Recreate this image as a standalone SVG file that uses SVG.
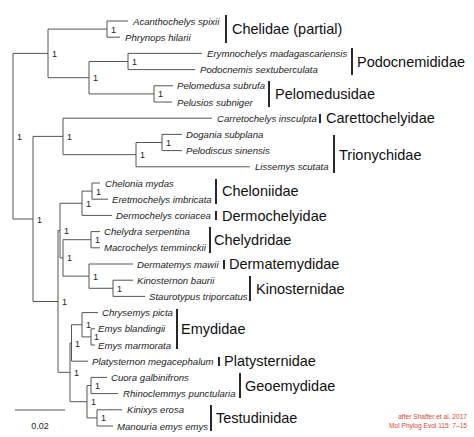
<svg xmlns="http://www.w3.org/2000/svg" width="474" height="437" viewBox="0 0 474 437">
<style>
.br{stroke:#555;stroke-width:1;fill:none}
.sp{font-family:"Liberation Sans",Arial,sans-serif;font-style:italic;font-size:9.6px;fill:#222}
.fam{font-family:"Liberation Sans",Arial,sans-serif;font-size:14.5px;fill:#111}
.bar{stroke:#111;stroke-width:1.8}
.sup{font-family:"Liberation Sans",Arial,sans-serif;font-size:9px;fill:#222}
.cr{font-family:"Liberation Sans",Arial,sans-serif;font-size:6.6px;fill:#e0432f;text-anchor:end}
</style>
<rect width="474" height="437" fill="#fff"/>
<g id="connectors" class="br">
<path d="M13,53.4V219 M13,53.4H48 M13,219H33"/>
<path d="M48,29.1V77.7 M48,29.1H107 M48,77.7H89"/>
<path d="M107,21V37.2 M107,21H128 M107,37.2H120"/>
<path d="M89,61.5V93.9 M89,61.5H128 M89,93.9H154"/>
<path d="M128,53.4V69.6 M128,53.4H202 M128,69.6H195"/>
<path d="M154,85.8V102 M154,85.8H173 M154,102H172"/>
<path d="M33,136.4V301.5 M33,136.4H63 M33,301.5H58"/>
<path d="M63,118.2V154.65 M63,118.2H212 M63,154.65H136"/>
<path d="M136,142.5V166.8 M136,142.5H162 M136,166.8H250"/>
<path d="M162,134.4V150.6 M162,134.4H182 M162,150.6H182"/>
<path d="M58,230.6V372.3 M58,230.6H60 M58,372.3H70"/>
<path d="M60,203.25V257.9 M60,203.25H82 M60,257.9H63"/>
<path d="M82,191.1V215.4 M82,191.1H92 M82,215.4H112"/>
<path d="M92,183V199.2 M92,183H100 M92,199.2H108"/>
<path d="M63,239.7V276.15 M63,239.7H91 M63,276.15H89"/>
<path d="M91,231.6V247.8 M91,231.6H100 M91,247.8H100"/>
<path d="M89,264V288.3 M89,264H133 M89,288.3H113"/>
<path d="M113,280.2V296.4 M113,280.2H133 M113,296.4H145"/>
<path d="M70,343V401.7 M70,343H71.5 M70,401.7H87"/>
<path d="M71.5,324.75V361.2 M71.5,324.75H82 M71.5,361.2H88"/>
<path d="M82,312.6V336.9 M82,312.6H98 M82,336.9H91"/>
<path d="M91,328.8V345 M91,328.8H95 M91,345H95"/>
<path d="M87,385.5V417.9 M87,385.5H91 M87,417.9H97"/>
<path d="M91,377.4V393.6 M91,377.4H107 M91,393.6H118"/>
<path d="M97,409.8V426 M97,409.8H122 M97,426H113"/>
</g>
<g id="supports" class="sup">
<text x="17" y="139.7">1</text>
<text x="52" y="56.9">1</text>
<text x="111" y="32.6">1</text>
<text x="93" y="81.2">1</text>
<text x="132" y="65">1</text>
<text x="158" y="97.4">1</text>
<text x="37" y="222.5">1</text>
<text x="67" y="139.9">1</text>
<text x="140" y="158.2">1</text>
<text x="166" y="146">1</text>
<text x="62" y="305">1</text>
<text x="64" y="234.1">1</text>
<text x="86" y="206.8">1</text>
<text x="96" y="194.6">1</text>
<text x="67" y="261.4">1</text>
<text x="95" y="243.2">1</text>
<text x="93" y="279.7">1</text>
<text x="117" y="291.8">1</text>
<text x="74" y="375.8">1</text>
<text x="75" y="346.5">1</text>
<text x="86" y="328.3">1</text>
<text x="94" y="340.4">1</text>
<text x="91" y="405.2">1</text>
<text x="95" y="389">1</text>
<text x="101" y="421.4">1</text>
</g>
<g id="tip-acanthochelys"><text class="sp" x="133" y="24.5">Acanthochelys spixii</text></g>
<g id="tip-phrynops"><text class="sp" x="125" y="40.7">Phrynops hilarii</text></g>
<g id="tip-erymnochelys"><text class="sp" x="207" y="56.9">Erymnochelys madagascariensis</text></g>
<g id="tip-podocnemis"><text class="sp" x="200" y="73.1">Podocnemis sextuberculata</text></g>
<g id="tip-pelomedusa"><text class="sp" x="177" y="89.3">Pelomedusa subrufa</text></g>
<g id="tip-pelusios"><text class="sp" x="177" y="105.5">Pelusios subniger</text></g>
<g id="tip-carretochelys"><text class="sp" x="217" y="121.7">Carretochelys insculpta</text></g>
<g id="tip-dogania"><text class="sp" x="186" y="137.9">Dogania subplana</text></g>
<g id="tip-pelodiscus"><text class="sp" x="186" y="154.1">Pelodiscus sinensis</text></g>
<g id="tip-lissemys"><text class="sp" x="255" y="170.3">Lissemys scutata</text></g>
<g id="tip-chelonia"><text class="sp" x="105" y="186.5">Chelonia mydas</text></g>
<g id="tip-eretmochelys"><text class="sp" x="112" y="202.7">Eretmochelys imbricata</text></g>
<g id="tip-dermochelys"><text class="sp" x="116" y="218.9">Dermochelys coriacea</text></g>
<g id="tip-chelydra"><text class="sp" x="104" y="235.1">Chelydra serpentina</text></g>
<g id="tip-macrochelys"><text class="sp" x="104" y="251.3">Macrochelys temminckii</text></g>
<g id="tip-dermatemys"><text class="sp" x="137" y="267.5">Dermatemys mawii</text></g>
<g id="tip-kinosternon"><text class="sp" x="137" y="283.7">Kinosternon baurii</text></g>
<g id="tip-staurotypus"><text class="sp" x="149" y="299.9">Staurotypus triporcatus</text></g>
<g id="tip-chrysemys"><text class="sp" x="102" y="316.1">Chrysemys picta</text></g>
<g id="tip-emys-blandingii"><text class="sp" x="98" y="332.3">Emys blandingii</text></g>
<g id="tip-emys-marmorata"><text class="sp" x="98" y="348.5">Emys marmorata</text></g>
<g id="tip-platysternon"><text class="sp" x="92" y="364.7">Platysternon megacephalum</text></g>
<g id="tip-cuora"><text class="sp" x="111" y="380.9">Cuora galbinifrons</text></g>
<g id="tip-rhinoclemmys"><text class="sp" x="123" y="397.1">Rhinoclemmys punctularia</text></g>
<g id="tip-kinixys"><text class="sp" x="127" y="413.3">Kinixys erosa</text></g>
<g id="tip-manouria"><text class="sp" x="117" y="429.5">Manouria emys emys</text></g>
<g id="fam-chelidae"><line class="bar" x1="226" y1="15" x2="226" y2="43"/><text class="fam" x="232" y="34.3">Chelidae (partial)</text></g>
<g id="fam-podocnemididae"><line class="bar" x1="352" y1="48" x2="352" y2="75"/><text class="fam" x="357" y="66.7">Podocnemididae</text></g>
<g id="fam-pelomedusidae"><line class="bar" x1="269" y1="81" x2="269" y2="107"/><text class="fam" x="275" y="99.1">Pelomedusidae</text></g>
<g id="fam-carettochelyidae"><line class="bar" x1="320" y1="114" x2="320" y2="123"/><text class="fam" x="326" y="123.4">Carettochelyidae</text></g>
<g id="fam-trionychidae"><line class="bar" x1="334" y1="135" x2="334" y2="173"/><text class="fam" x="339" y="159.6">Trionychidae</text></g>
<g id="fam-cheloniidae"><line class="bar" x1="216" y1="179" x2="216" y2="204"/><text class="fam" x="222" y="196.3">Cheloniidae</text></g>
<g id="fam-dermochelyidae"><line class="bar" x1="216" y1="211" x2="216" y2="220"/><text class="fam" x="222" y="220.6">Dermochelyidae</text></g>
<g id="fam-chelydridae"><line class="bar" x1="210" y1="227" x2="210" y2="253"/><text class="fam" x="214" y="244.9">Chelydridae</text></g>
<g id="fam-dermatemydidae"><line class="bar" x1="224" y1="260" x2="224" y2="269"/><text class="fam" x="229" y="269.2">Dermatemydidae</text></g>
<g id="fam-kinosternidae"><line class="bar" x1="250" y1="276" x2="250" y2="301"/><text class="fam" x="256" y="293.5">Kinosternidae</text></g>
<g id="fam-emydidae"><line class="bar" x1="177" y1="309" x2="177" y2="349"/><text class="fam" x="181" y="334">Emydidae</text></g>
<g id="fam-platysternidae"><line class="bar" x1="219" y1="357" x2="219" y2="366"/><text class="fam" x="224" y="366.4">Platysternidae</text></g>
<g id="fam-geoemydidae"><line class="bar" x1="240" y1="373" x2="240" y2="398"/><text class="fam" x="245" y="390.7">Geoemydidae</text></g>
<g id="fam-testudinidae"><line class="bar" x1="211" y1="405" x2="211" y2="431"/><text class="fam" x="216" y="423.1">Testudinidae</text></g>
<g id="scalebar"><line class="br" x1="15" y1="410" x2="65" y2="410"/><text class="sup" x="40" y="429" text-anchor="middle" font-size="10">0.02</text></g>
<g id="credit"><text class="cr" x="467" y="419">after Shaffer et al. 2017</text><text class="cr" x="467" y="428">Mol Phylog Evol 115: 7–15</text></g>
</svg>
